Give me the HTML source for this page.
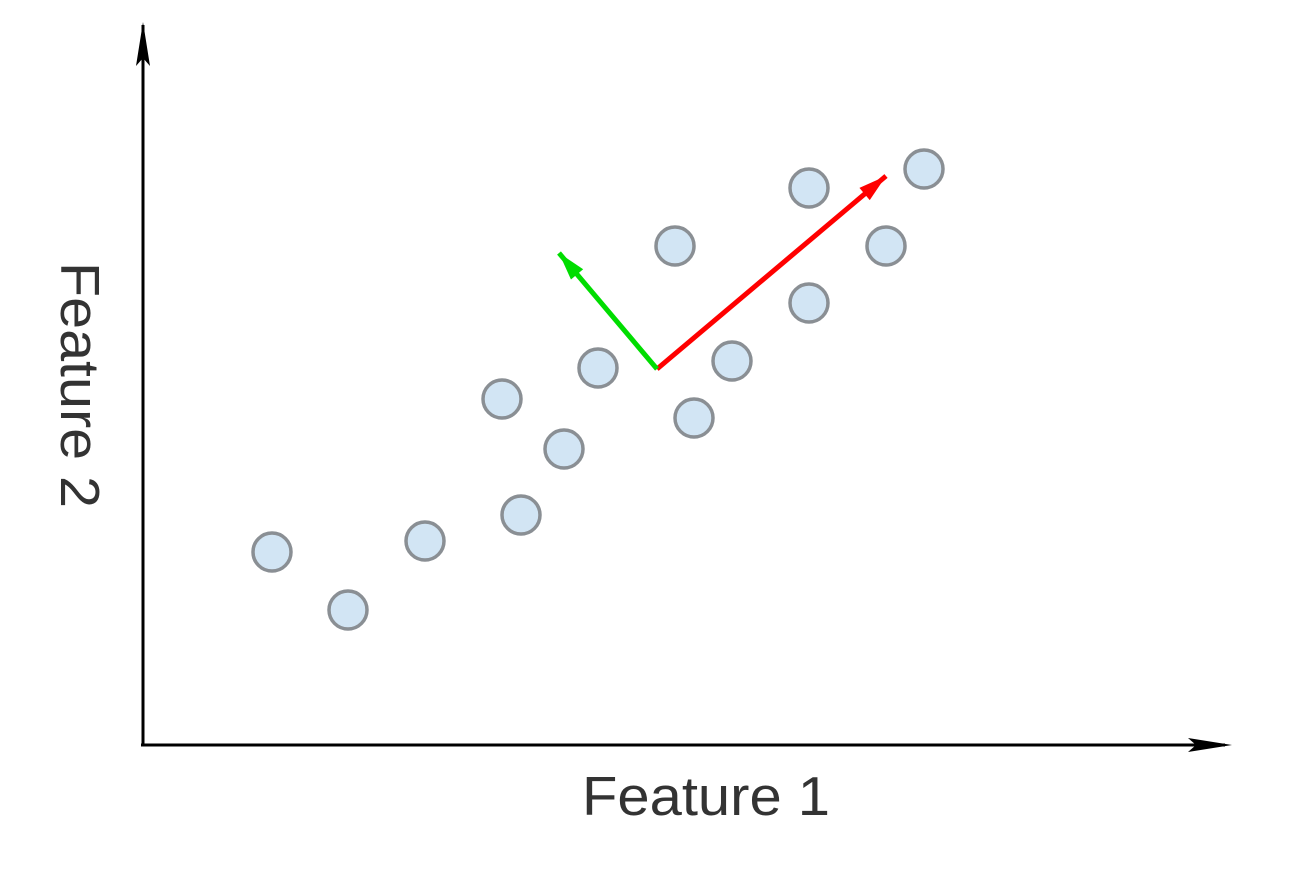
<!DOCTYPE html>
<html><head><meta charset="utf-8"><style>
html,body{margin:0;padding:0;background:#fff;}
svg{display:block;}
</style></head><body>
<svg id="chart" width="1290" height="871" viewBox="0 0 1290 871" xmlns="http://www.w3.org/2000/svg">
<line x1="143" y1="746" x2="143" y2="25" stroke="#000" stroke-width="3"/>
<path d="M143,22 L150,66 L143,58 L136,66 Z" fill="#000"/>
<line x1="141" y1="745" x2="1225" y2="745" stroke="#000" stroke-width="3"/>
<path d="M1232,745 L1188,738 L1196,745 L1188,752 Z" fill="#000"/>
<g id="points"></g>
<g id="vectors"></g>
<text x="706" y="815" text-anchor="middle" font-family="Liberation Sans, sans-serif" font-size="55" textLength="248" lengthAdjust="spacingAndGlyphs" fill="#333">Feature 1</text>
<text transform="translate(61,385) rotate(90)" text-anchor="middle" font-family="Liberation Sans, sans-serif" font-size="55" textLength="246" lengthAdjust="spacingAndGlyphs" fill="#333">Feature 2</text>
</svg>
<script>
const xs = [12.9, 20.5, 28.2, 35.9, 37.8, 42.1, 45.5, 53.2, 55.1, 58.9, 66.6, 66.6, 74.3, 78.1];
const ys = [19.3, 13.5, 20.4, 34.6, 23.0, 29.6, 37.7, 49.9, 32.7, 38.4, 55.7, 44.2, 49.9, 57.6];
const origin = [51.4, 37.6];
const vecEnds = [[74.3, 56.9], [41.6, 49.2]];
const vecColors = ['#ff0000', '#00dd00'];
const xScale = v => 143 + v * 10;
const yScale = v => 745 - v * 10;
const NS = 'http://www.w3.org/2000/svg';
const pg = document.getElementById('points');
for (let i = 0; i < xs.length; i++) {
  const c = document.createElementNS(NS, 'circle');
  c.setAttribute('cx', xScale(xs[i]));
  c.setAttribute('cy', yScale(ys[i]));
  c.setAttribute('r', 19);
  c.setAttribute('fill', '#d2e5f4');
  c.setAttribute('stroke', '#8a8f94');
  c.setAttribute('stroke-width', 3.5);
  
  
  pg.appendChild(c);
}
const vg = document.getElementById('vectors');
for (let i = 0; i < vecEnds.length; i++) {
  const x1 = xScale(origin[0]), y1 = yScale(origin[1]);
  const x2 = xScale(vecEnds[i][0]), y2 = yScale(vecEnds[i][1]);
  const l = document.createElementNS(NS, 'line');
  l.setAttribute('x1', x1); l.setAttribute('y1', y1);
  l.setAttribute('x2', x2); l.setAttribute('y2', y2);
  l.setAttribute('stroke', vecColors[i]);
  l.setAttribute('stroke-width', 5);
  
  
  vg.appendChild(l);
  const a = Math.atan2(y2 - y1, x2 - x1);
  const L = 28, W = 8;
  const bx = x2 - L * Math.cos(a), by = y2 - L * Math.sin(a);
  const px = -Math.sin(a) * W, py = Math.cos(a) * W;
  const h = document.createElementNS(NS, 'path');
  h.setAttribute('d', `M${x2},${y2} L${bx+px},${by+py} L${bx-px},${by-py} Z`);
  h.setAttribute('fill', vecColors[i]);
  
  
  vg.appendChild(h);
}
</script>
</body></html>
